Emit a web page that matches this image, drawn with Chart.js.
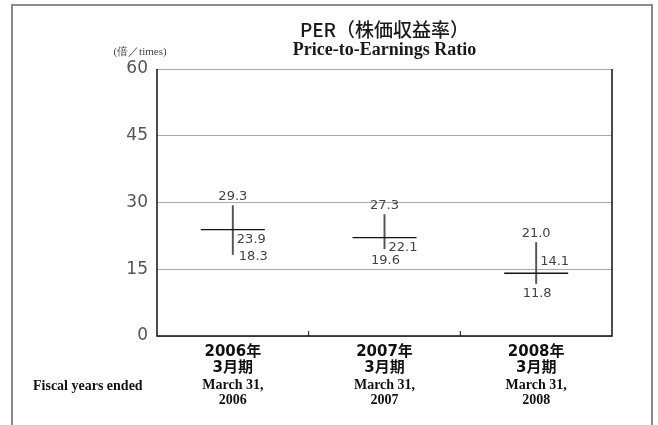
<!DOCTYPE html>
<html>
<head>
<meta charset="utf-8">
<script src="https://cdn.jsdelivr.net/npm/chart.js@4"></script>
<style>
  html, body { margin: 0; padding: 0; background: #fff; }
  #wrap { position: relative; width: 658px; height: 425px; overflow: hidden; }
  #frame {
    position: absolute; left: 11px; top: 4px; width: 638px; height: 500px;
    border: 2px solid #8c8c8c;
  }
  canvas { position: absolute; left: 0; top: 0; }
</style>
</head>
<body>
<div id="wrap">
  <div id="frame"></div>
  <canvas id="perChart" width="658" height="425"></canvas>
</div>
<script>
// values
const yearLabels = [["2006年", "3月期"], ["2007年", "3月期"], ["2008年", "3月期"]];
const fiscalLabels = [["March 31,", "2006"], ["March 31,", "2007"], ["March 31,", "2008"]];
const highs = [29.3, 27.3, 21.0];
const averages = [23.9, 22.1, 14.1];
const lows = [18.3, 19.6, 11.8];
const yTicks = [0, 15, 30, 45, 60];

const numFont = "'DejaVu Sans', 'Noto Sans CJK JP', sans-serif";
const cjkFont = "'Noto Sans CJK JP', sans-serif";
const serifFont = "'Liberation Serif', 'DejaVu Serif', serif";

// label nudges (px) for high / average / low text, per year
const labelOffsets = [
  { high: [0, -9], avg: [4, 10], low: [6, 2], lowAlign: "left" },
  { high: [0, -9], avg: [4, 10], low: [1, 12], lowAlign: "center" },
  { high: [0, -9], avg: [4, -12], low: [1, 10], lowAlign: "center" },
];

const extrasPlugin = {
  id: "extras",
  afterDraw(chart) {
    const ctx = chart.ctx;
    const area = chart.chartArea;
    const x = chart.scales.x;
    const y = chart.scales.y;
    const midX = (area.left + area.right) / 2;
    ctx.save();

    // plot border (left, bottom, right)
    ctx.strokeStyle = "#111";
    ctx.lineWidth = 1.5;
    ctx.beginPath();
    ctx.moveTo(area.left, area.top);
    ctx.lineTo(area.left, area.bottom);
    ctx.lineTo(area.right, area.bottom);
    ctx.lineTo(area.right, area.top);
    ctx.stroke();

    // small tick marks between the years
    ctx.lineWidth = 1;
    for (let i = 0; i < highs.length - 1; i++) {
      const bx = (x.getPixelForValue(i) + x.getPixelForValue(i + 1)) / 2;
      ctx.beginPath();
      ctx.moveTo(bx, area.bottom);
      ctx.lineTo(bx, area.bottom - 5);
      ctx.stroke();
    }

    // value labels
    ctx.fillStyle = "#444";
    ctx.font = "13px " + numFont;
    ctx.textBaseline = "middle";
    highs.forEach((h, i) => {
      const cx = x.getPixelForValue(i);
      const off = labelOffsets[i];
      ctx.textAlign = "center";
      ctx.fillText(h.toFixed(1), cx + off.high[0], y.getPixelForValue(h) + off.high[1]);
      ctx.textAlign = "left";
      ctx.fillText(averages[i].toFixed(1), cx + off.avg[0], y.getPixelForValue(averages[i]) + off.avg[1]);
      ctx.textAlign = off.lowAlign;
      ctx.fillText(lows[i].toFixed(1), cx + off.low[0], y.getPixelForValue(lows[i]) + off.low[1]);
    });

    // fiscal year text under the Japanese labels
    ctx.fillStyle = "#111";
    ctx.font = "bold 14px " + serifFont;
    ctx.textAlign = "center";
    fiscalLabels.forEach((lines, i) => {
      const cx = x.getPixelForValue(i);
      ctx.fillText(lines[0], cx, 385);
      ctx.fillText(lines[1], cx, 400);
    });
    ctx.textAlign = "left";
    ctx.fillText("Fiscal years ended", 33, 386);

    // titles, centred over the plot
    ctx.textAlign = "center";
    ctx.fillStyle = "#1a1a1a";
    ctx.font = "500 19px " + cjkFont;
    ctx.fillText("PER（株価収益率）", midX, 30);
    ctx.font = "bold 18px " + serifFont;
    ctx.fillText("Price-to-Earnings Ratio", midX, 50);

    // unit
    ctx.fillStyle = "#444";
    ctx.font = "11px " + serifFont;
    ctx.fillText("(倍／times)", 140, 52);

    ctx.restore();
  },
};

new Chart(document.getElementById("perChart"), {
  type: "bar",
  data: {
    labels: yearLabels,
    datasets: [
      {
        label: "Average",
        type: "line",
        data: averages,
        showLine: false,
        pointStyle: "line",
        pointRadius: 32,
        pointHoverRadius: 32,
        pointBorderColor: "#111",
        pointBorderWidth: 1.3,
        order: 0,
      },
      {
        label: "Range",
        data: lows.map((l, i) => [l, highs[i]]),
        backgroundColor: "#555",
        barThickness: 1.3,
        order: 1,
      },
    ],
  },
  options: {
    responsive: false,
    animation: false,
    events: [],
    layout: { padding: { top: 69, right: 46, left: 0, bottom: 0 } },
    plugins: {
      legend: { display: false },
      tooltip: { enabled: false },
    },
    scales: {
      x: {
        offset: true,
        grid: { display: false, drawTicks: false },
        border: { display: false },
        ticks: {
          padding: 8,
          color: "#111",
          font: { family: numFont, size: 15, weight: "bold", lineHeight: 1.05 },
          maxRotation: 0,
        },
        afterFit: (s) => { s.height = 89; },
      },
      y: {
        min: 0,
        max: 60,
        afterBuildTicks: (s) => { s.ticks = yTicks.map((v) => ({ value: v })); },
        grid: { color: "#aaa", lineWidth: 1, drawTicks: false },
        border: { display: false },
        ticks: {
          padding: 9,
          color: "#555",
          font: { family: numFont, size: 17 },
        },
        afterFit: (s) => { s.width = 157; },
      },
    },
  },
  plugins: [extrasPlugin],
});
</script>
</body>
</html>
